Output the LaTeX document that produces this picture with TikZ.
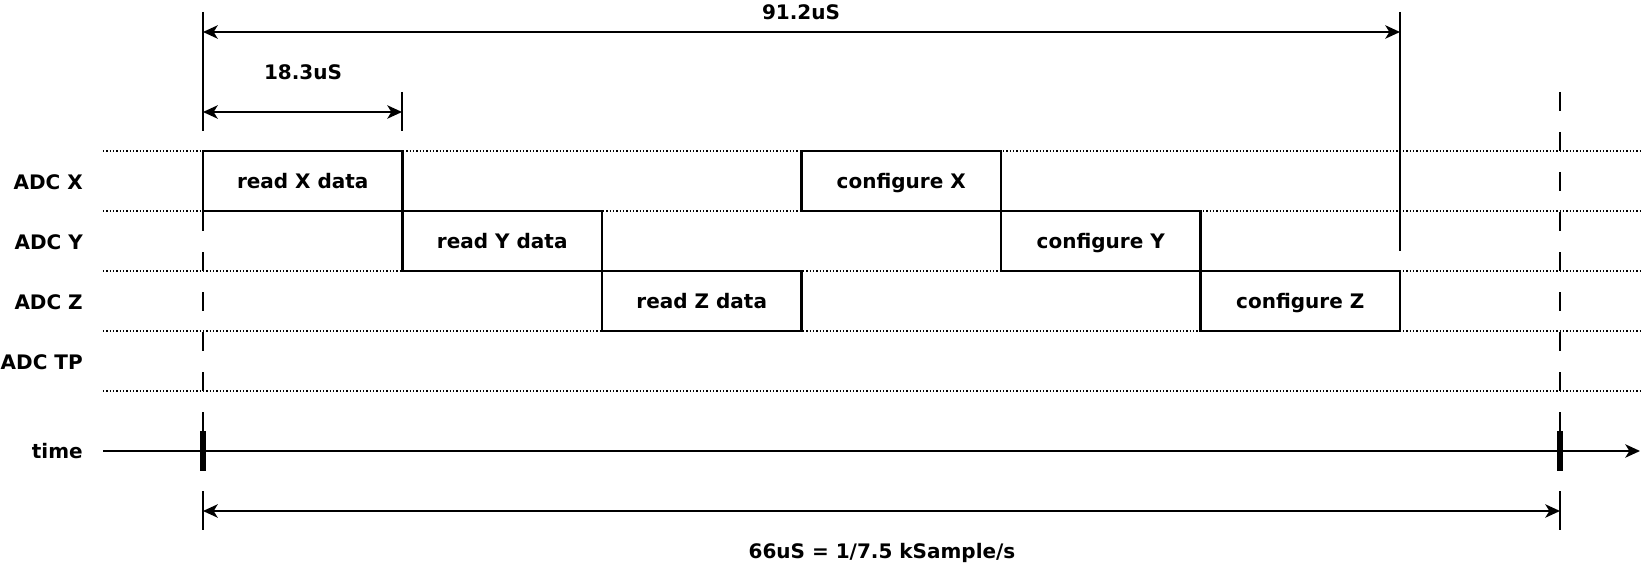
\documentclass[tikz,border=0pt]{standalone}
\usepackage{fontspec}
\setmainfont{DejaVu Sans}
\usetikzlibrary{arrows.meta}
\begin{document}
\begin{tikzpicture}[x=0.75pt,y=-0.75pt,
  every node/.style={font=\fontsize{15}{17}\selectfont\bfseries, inner sep=0pt, text height=10.9pt, text depth=0pt},
  lane/.style={line width=1.1pt, dash pattern=on 1.1pt off 1.4pt},
  solidln/.style={line width=1.6pt},
  dashln/.style={line width=1.6pt, dash pattern=on 14.25pt off 15.75pt},
  boldtick/.style={line width=4.2pt},
  tip/.tip={Stealth[length=11pt,width=10pt,inset=3pt]},
  dim/.style={line width=1.6pt, tip-tip},
  box/.style={draw, line width=1.6pt, fill=white, minimum width=149.6pt, minimum height=45pt},
  lbl/.style={anchor=east}]
\useasboundingbox (0,0) rectangle (1645,563);
% lanes
\foreach \y in {151,211,271,331,391} \draw[lane] (103,\y) -- (1640,\y);
% row labels
\node[lbl] (lx) at (83,182) {ADC X};
\node[lbl] (ly) at (83,242) {ADC Y};
\node[lbl] (lz) at (83,302) {ADC Z};
\node[lbl] (ltp) at (83,362) {ADC TP};
\node[lbl] (lt) at (83,451) {time};
% boxes
\node[box] (rx) at (302.75,181) {read X data};
\node[box] (ry) at (502.25,241) {read Y data};
\node[box] (rz) at (701.75,301) {read Z data};
\node[box] (cx) at (901.25,181) {configure X};
\node[box] (cy) at (1100.75,241) {configure Y};
\node[box] (cz) at (1300.25,301) {configure Z};
% coordinates
\coordinate (a0) at (203,12);  \coordinate (a1) at (203,131);
\coordinate (d0) at (203,212); \coordinate (d1) at (203,431);
\coordinate (b0) at (203,471); \coordinate (e0) at (203,491); \coordinate (e1) at (203,530);
\coordinate (r0) at (1560,92); \coordinate (r1) at (1560,431);
\coordinate (rb) at (1560,471); \coordinate (re0) at (1560,491); \coordinate (re1) at (1560,530);
\coordinate (m0) at (1400,12); \coordinate (m1) at (1400,251);
\coordinate (k0) at (402,92); \coordinate (k1) at (402,131);
\coordinate (ta) at (103,451); \coordinate (tb) at (1640,451);
% verticals
\draw[solidln] (a0) -- (a1);
\draw[dashln] (d0) -- (d1);
\draw[boldtick] (d1) -- (b0);
\draw[solidln] (e0) -- (e1);
\draw[dashln] (r0) -- (r1);
\draw[boldtick] (r1) -- (rb);
\draw[solidln] (re0) -- (re1);
\draw[solidln] (m0) -- (m1);
\draw[solidln] (k0) -- (k1);
% time axis
\draw[line width=1.6pt, -tip] (ta) -- (tb);
% dimensions
\coordinate (p1) at (203,32); \coordinate (p2) at (1400,32);
\coordinate (q1) at (203,112); \coordinate (q2) at (402,112);
\coordinate (s1) at (203,511); \coordinate (s2) at (1560,511);
\draw[dim] (p1) -- (p2);
\draw[dim] (q1) -- (q2);
\draw[dim] (s1) -- (s2);
\node (t912) at (801,12) {91.2uS};
\node (t183) at (303,72) {18.3uS};
\node (t66) at (882,551) {66uS = 1/7.5 kSample/s};
\end{tikzpicture}
\end{document}
